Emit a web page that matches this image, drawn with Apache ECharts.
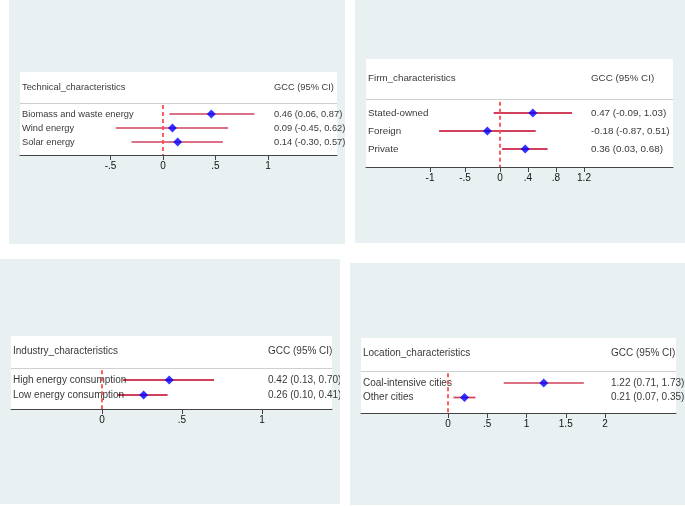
<!DOCTYPE html>
<html>
<head>
<meta charset="utf-8">
<script src="https://cdn.jsdelivr.net/npm/echarts@6/dist/echarts.min.js"></script>
<style>html,body{margin:0;padding:0;background:#fff}#c{width:685px;height:506px}</style>
</head>
<body>
<div id="c"></div>
<script>
// ---- data ----
const tech_title = 'Technical_characteristics';
const tech_categories = ['Biomass and waste energy', 'Wind energy', 'Solar energy'];
const tech_est = [0.46, 0.09, 0.14];
const tech_lo = [0.06, -0.45, -0.30];
const tech_hi = [0.87, 0.62, 0.57];
const tech_ticks = [-0.5, 0, 0.5, 1];

const firm_title = 'Firm_characteristics';
const firm_categories = ['Stated-owned', 'Foreign', 'Private'];
const firm_est = [0.47, -0.18, 0.36];
const firm_lo = [-0.09, -0.87, 0.03];
const firm_hi = [1.03, 0.51, 0.68];
const firm_ticks = [-1, -0.5, 0, 0.4, 0.8, 1.2];

const ind_title = 'Industry_characteristics';
const ind_categories = ['High energy consumption', 'Low energy consumption'];
const ind_est = [0.42, 0.26];
const ind_lo = [0.13, 0.10];
const ind_hi = [0.70, 0.41];
const ind_ticks = [0, 0.5, 1];

const loc_title = 'Location_characteristics';
const loc_categories = ['Coal-intensive cities', 'Other cities'];
const loc_est = [1.22, 0.21];
const loc_lo = [0.71, 0.07];
const loc_hi = [1.73, 0.35];
const loc_ticks = [0, 0.5, 1, 1.5, 2];

const colHeader = 'GCC (95% CI)';

// ---- layout (pixels) ----
const FONT = '"Liberation Sans", Arial, Helvetica, sans-serif';
const panels = [
  {title: tech_title, cats: tech_categories, est: tech_est, lo: tech_lo, hi: tech_hi, ticks: tech_ticks,
   bg: [9, 0, 336, 244], l: 20, t: 72, r: 337, b: 155, zeroPx: 163, scale: 105,
   rowY0: 114, step: 14, headerY: 87, sepY: 103, labelPx: 22, gccPx: 274, font: 9.3, sym: 9, lw: 1.6},
  {title: firm_title, cats: firm_categories, est: firm_est, lo: firm_lo, hi: firm_hi, ticks: firm_ticks,
   bg: [355, 0, 330, 243], l: 366, t: 59, r: 673, b: 167, zeroPx: 500, scale: 70,
   rowY0: 113, step: 18, headerY: 78, sepY: 99, labelPx: 368, gccPx: 591, font: 9.8, sym: 9, lw: 2},
  {title: ind_title, cats: ind_categories, est: ind_est, lo: ind_lo, hi: ind_hi, ticks: ind_ticks,
   bg: [0, 259, 340, 245], l: 11, t: 336, r: 332, b: 409, zeroPx: 102, scale: 160,
   rowY0: 380, step: 15, headerY: 351, sepY: 368, labelPx: 13, gccPx: 268, font: 10, sym: 9, lw: 2},
  {title: loc_title, cats: loc_categories, est: loc_est, lo: loc_lo, hi: loc_hi, ticks: loc_ticks,
   bg: [350, 263, 335, 242], l: 361, t: 338, r: 676, b: 413, zeroPx: 448, scale: 78.5,
   rowY0: 383, step: 14.5, headerY: 353, sepY: 371, labelPx: 363, gccPx: 611, font: 10, sym: 9, lw: 1.7}
];

const BG = '#e9f0f2';
const CI = '#d0405c';
const fmtTick = v => v === 0 ? '0' : String(v).replace(/^(-?)0\./, '$1.');

const grid = [], xAxis = [], yAxis = [], series = [], graphic = [];
panels.forEach((p, k) => {
  const toX = px => (px - p.zeroPx) / p.scale;
  const toY = py => (py - p.rowY0) / p.step;
  const xmin = toX(p.l), xmax = toX(p.r);
  const ymin = toY(p.t), ymax = toY(p.b);
  const hdr = toY(p.headerY), sep = toY(p.sepY);
  const lx = toX(p.labelPx), gx = toX(p.gccPx);

  graphic.push({type: 'rect', z: -2, shape: {x: p.bg[0], y: p.bg[1], width: p.bg[2], height: p.bg[3]}, style: {fill: BG}});
  graphic.push({type: 'rect', z: -1, shape: {x: p.l, y: p.t, width: p.r - p.l, height: p.b - p.t}, style: {fill: '#ffffff'}});

  grid.push({left: p.l, top: p.t, width: p.r - p.l, height: p.b - p.t, containLabel: false});
  xAxis.push({
    type: 'value', gridIndex: k, min: xmin, max: xmax,
    splitLine: {show: false},
    axisLine: {show: true, onZero: false, lineStyle: {color: '#444', width: 1}},
    axisTick: {show: true, customValues: p.ticks, length: 5, lineStyle: {color: '#444'}},
    axisLabel: {show: true, customValues: p.ticks, formatter: fmtTick, fontSize: 10, color: '#111', fontFamily: FONT, margin: 6}
  });
  yAxis.push({type: 'value', gridIndex: k, inverse: true, min: ymin, max: ymax, show: false, splitLine: {show: false}});

  const rows = p.cats.map((c, i) => i);
  // CI lines
  series.push({
    type: 'custom', xAxisIndex: k, yAxisIndex: k, silent: true, z: 3,
    data: rows.map(i => [p.lo[i], p.hi[i], i]),
    encode: {x: [0, 1], y: 2},
    renderItem: (params, api) => {
      const a = api.coord([api.value(0), api.value(2)]);
      const b = api.coord([api.value(1), api.value(2)]);
      return {type: 'line', shape: {x1: a[0], y1: a[1], x2: b[0], y2: b[1]}, style: {stroke: CI, lineWidth: p.lw}};
    }
  });
  // Estimates
  series.push({
    type: 'scatter', xAxisIndex: k, yAxisIndex: k, silent: true, z: 5,
    symbol: 'diamond', symbolSize: p.sym,
    itemStyle: {color: '#0000ff'},
    data: rows.map(i => [p.est[i], i])
  });
  // Row labels
  series.push({
    type: 'scatter', xAxisIndex: k, yAxisIndex: k, silent: true, z: 4, symbolSize: 0,
    data: rows.map(i => ({value: [lx, i], name: p.cats[i]})),
    label: {show: true, position: 'right', distance: 0, align: 'left', verticalAlign: 'middle',
      formatter: d => d.name, fontSize: p.font, color: '#000', fontFamily: FONT}
  });
  // Estimate text column
  series.push({
    type: 'scatter', xAxisIndex: k, yAxisIndex: k, silent: true, z: 4, symbolSize: 0,
    data: rows.map(i => ({value: [gx, i],
      name: p.est[i].toFixed(2) + ' (' + p.lo[i].toFixed(2) + ', ' + p.hi[i].toFixed(2) + ')'})),
    label: {show: true, position: 'right', distance: 0, align: 'left', verticalAlign: 'middle',
      formatter: d => d.name, fontSize: p.font, color: '#000', fontFamily: FONT}
  });
  // Header + separator + zero line
  series.push({
    type: 'scatter', xAxisIndex: k, yAxisIndex: k, silent: true, z: 4, symbolSize: 0,
    data: [{value: [lx, hdr], name: p.title}, {value: [gx, hdr], name: colHeader}],
    label: {show: true, position: 'right', distance: 0, align: 'left', verticalAlign: 'middle',
      formatter: d => d.name, fontSize: p.font, color: '#000', fontFamily: FONT},
    markLine: {
      silent: true, symbol: 'none', animation: false, label: {show: false},
      data: [
        [{coord: [xmin, sep], lineStyle: {color: '#cfcfcf', width: 1, type: 'solid'}}, {coord: [xmax, sep]}],
        [{coord: [0, sep + 0.15], lineStyle: {color: '#ff4d4d', width: 1.8, type: [4, 3]}}, {coord: [0, ymax]}]
      ]
    }
  });
});

// white gaps between the four pictures (clip overflowing text)
graphic.push({type: 'rect', z: 100, shape: {x: 346, y: 0, width: 9, height: 259}, style: {fill: '#fff'}});
graphic.push({type: 'rect', z: 100, shape: {x: 340, y: 259, width: 10, height: 247}, style: {fill: '#fff'}});

const chart = echarts.init(document.getElementById('c'), null, {renderer: 'canvas'});
chart.setOption({
  animation: false,
  backgroundColor: '#ffffff',
  textStyle: {fontFamily: FONT},
  graphic: {elements: graphic},
  grid, xAxis, yAxis, series
});
</script>
</body>
</html>
